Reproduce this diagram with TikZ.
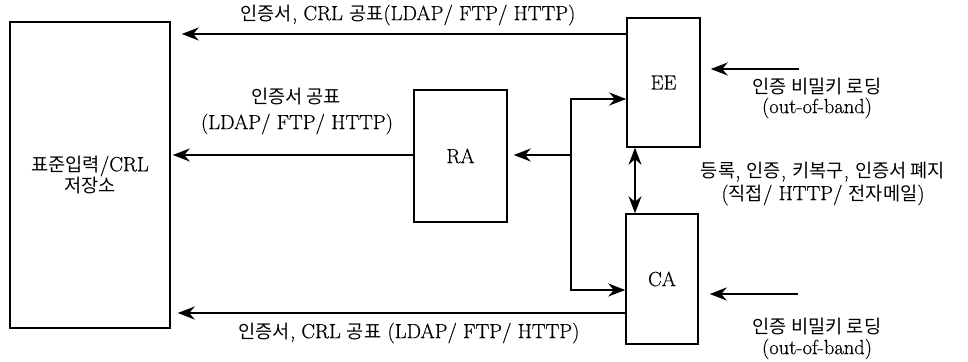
\documentclass[tikz,border=0pt]{standalone}
\usepackage{fontspec}
\setmainfont{Latin Modern Roman}[FakeBold=0.5]
\newfontfamily\kr[Scale=0.91]{Noto Sans CJK KR}
\usetikzlibrary{arrows.meta}
\newcommand\fs{\fontsize{20.5}{20}\selectfont}
\begin{document}
\begin{tikzpicture}[x=1pt,y=-1pt,
  box/.style={draw, line width=1.5pt, inner sep=0pt, font=\fs, align=center},
  arr/.style={line width=1.8pt, -{Stealth[length=17pt,width=13pt]}},
  arrs/.style={line width=1.8pt, {Stealth[length=17pt,width=13pt]}-{Stealth[length=17pt,width=13pt]}},
  lbl/.style={inner sep=0pt, font=\fs}]
\useasboundingbox (0,0) rectangle (968,361);

% boxes
\node[box, minimum width=160pt, minimum height=306pt] (store) at (90,175)
  {{\kr 표준입력}/CRL\\{\kr 저장소}};
\node[box, minimum width=93pt, minimum height=132pt] (RA) at (460.5,156) {RA};
\node[box, minimum width=73pt, minimum height=129pt] (EE) at (663.5,82.5) {EE};
\node[box, minimum width=72pt, minimum height=130pt] (CA) at (662,279) {CA};

% helper points for the connectors
\coordinate (ytop) at (0,34);
\coordinate (ybot) at (0,313);
\coordinate (yra) at (0,155);
\coordinate (bus) at (571,155);
\coordinate (busT) at (571,99);
\coordinate (busB) at (571,290);
\coordinate (kEE) at (799,69);
\coordinate (kCA) at (798,294);
\coordinate (xd) at (635,0);

% publication paths into the repository
\draw[arr, shorten >=11pt] (EE.west |- ytop) -- (store.east |- ytop);
\draw[arr, shorten >=2pt] (RA.west |- yra) -- (store.east |- yra);
\draw[arr, shorten >=7pt] (CA.west |- ybot) -- (store.east |- ybot);

% RA distribution bus
\draw[arr, shorten >=6pt] (bus) -- (RA.east |- bus);
\draw[arr] (bus) |- (EE.west |- busT);
\draw[arr] (bus) |- (CA.west |- busB);

% EE <-> CA
\draw[arrs] (EE.south -| xd) -- (CA.north -| xd);

% out-of-band key loading
\draw[arr, shorten >=10pt] (kEE) -- (EE.east |- kEE);
\draw[arr, shorten >=11pt] (kCA) -- (CA.east |- kCA);

% labels
\node[lbl] (t1) at (408,15) {{\kr 인증서}, CRL {\kr 공표}(LDAP/ FTP/ HTTP)};
\node[lbl] (t2a) at (296,97) {{\kr 인증서 공표}};
\node[lbl] (t2b) at (297,124) {(LDAP/ FTP/ HTTP)};
\node[lbl] (t3) at (409,333) {{\kr 인증서}, CRL {\kr 공표} (LDAP/ FTP/ HTTP)};
\node[lbl] (e1) at (817,87) {{\kr 인증 비밀키 로딩}};
\node[lbl] (e2) at (817,108) {(out-of-band)};
\node[lbl] (m1) at (823,172) {{\kr 등록}, {\kr 인증}, {\kr 키복구}, {\kr 인증서 폐지}};
\node[lbl] (m2) at (823,195) {({\kr 직접}/ HTTP/ {\kr 전자메일})};
\node[lbl] (c1) at (817,327) {{\kr 인증 비밀키 로딩}};
\node[lbl] (c2) at (817,349) {(out-of-band)};
\end{tikzpicture}
\end{document}
